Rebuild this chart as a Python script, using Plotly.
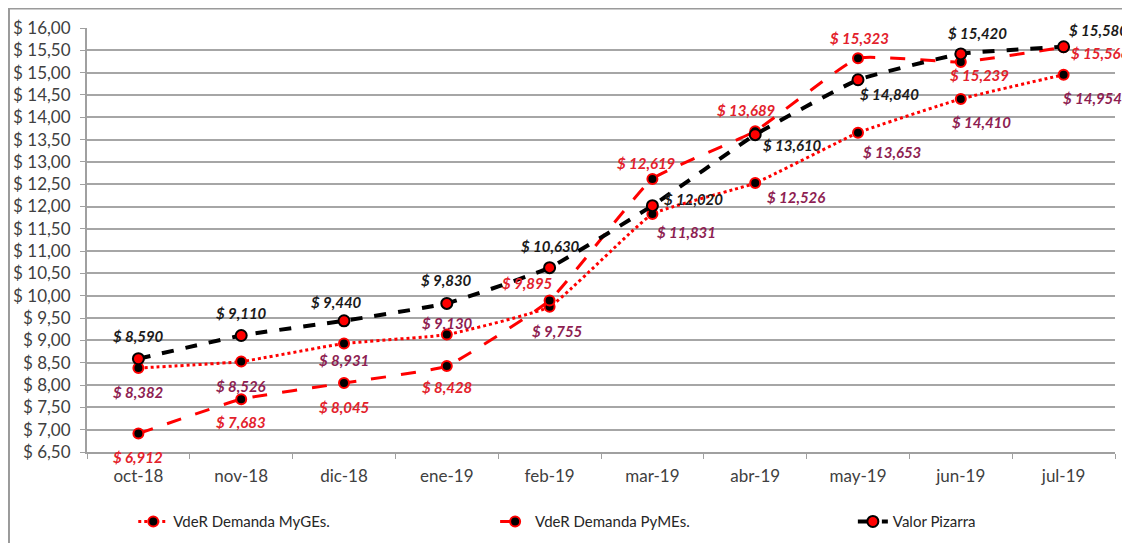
import plotly.graph_objects as go

# categories and series (values in $ thousands)
months = ["oct-18", "nov-18", "dic-18", "ene-19", "feb-19",
          "mar-19", "abr-19", "may-19", "jun-19", "jul-19"]
myges = [8.382, 8.526, 8.931, 9.130, 9.755, 11.831, 12.526, 13.653, 14.410, 14.954]
pymes = [6.912, 7.683, 8.045, 8.428, 9.895, 12.619, 13.689, 15.323, 15.239, 15.566]
pizarra = [8.590, 9.110, 9.440, 9.830, 10.630, 12.020, 13.610, 14.840, 15.420, 15.580]

y_ticks = [6.5 + 0.5 * i for i in range(20)]
y_ticktext = ["$ " + f"{v:.2f}".replace(".", ",") for v in y_ticks]

FONT = "Lato"
RED = "#ff0000"
MYGES_LBL = "#8e1e52"
PYMES_LBL = "#e3212b"
PIZ_LBL = "#1a1a1a"

# data-label offsets in pixels (dx right, dy down), as Excel placed them
off_myges = [(0, 24), (0, 24), (0, 16), (1, -12), (8, 24),
             (34, 18), (41, 14), (34, 19), (21, 23), (29, 23)]
off_pymes = [(0, 23), (0, 23), (0, 24), (0, 21), (-22, -17),
             (-6, -16), (-9, -21), (1, -20), (19, 13), (36, 6)]
off_piz = [(0, -23), (0, -23), (-8, -19), (0, -23), (1, -22),
           (41, -7), (37, 10), (31, 14), (17, -21), (35, -17)]


def labels(vals):
    return ["$ " + f"{v:.3f}".replace(".", ",") for v in vals]


fig = go.Figure()

fig.add_trace(go.Scatter(
    x=months, y=myges, name="VdeR Demanda MyGEs.", legend="legend",
    mode="lines+markers",
    line=dict(color=RED, width=3, dash="dot", shape="spline", smoothing=0.35),
    marker=dict(size=10, color="black", line=dict(color=RED, width=2)),
))
fig.add_trace(go.Scatter(
    x=months, y=pymes, name="VdeR Demanda PyMEs.", legend="legend2",
    mode="lines+markers",
    line=dict(color=RED, width=3, dash="longdash", shape="spline", smoothing=0.35),
    marker=dict(size=10, color="black", line=dict(color=RED, width=2)),
))
fig.add_trace(go.Scatter(
    x=months, y=pizarra, name="Valor Pizarra", legend="legend3",
    mode="lines+markers",
    line=dict(color="black", width=4, dash="dash", shape="spline", smoothing=0.35),
    marker=dict(size=11, color=RED, line=dict(color="black", width=2)),
))

# data labels
for vals, offs, col in [(myges, off_myges, MYGES_LBL),
                        (pymes, off_pymes, PYMES_LBL),
                        (pizarra, off_piz, PIZ_LBL)]:
    for m, v, t, (dx, dy) in zip(months, vals, labels(vals), offs):
        fig.add_annotation(
            x=m, y=v, xref="x", yref="y", text=t, showarrow=False,
            xanchor="center", yanchor="middle", xshift=dx, yshift=-dy,
            font=dict(family=FONT, size=15, color=col, style="italic", weight="bold"),
        )

# outer chart border (page body has an 8px margin, so it sits at the figure edge)
fig.add_shape(type="rect", xref="paper", yref="paper",
              x0=-0.0759, x1=1.03, y0=-0.25, y1=1.046,
              line=dict(color="#9a9a9a", width=2), layer="below")

legend_style = dict(orientation="h", y=-0.1255, xanchor="left", yanchor="top",
                    bgcolor="rgba(0,0,0,0)",
                    font=dict(family=FONT, size=15, color="#262626"))

fig.update_layout(
    width=1130, height=543,
    margin=dict(l=79, r=23, t=20, b=99, autoexpand=False),
    paper_bgcolor="white", plot_bgcolor="white",
    font=dict(family=FONT, size=16, color="#404040"),
    showlegend=True,
    legend=dict(x=0.045, **legend_style),
    legend2=dict(x=0.397, **legend_style),
    legend3=dict(x=0.745, **legend_style),
    xaxis=dict(
        type="category", range=[-0.5, 9.5], automargin=False,
        showline=True, linecolor="#a0a0a0", linewidth=2,
        ticks="outside", tickson="boundaries", ticklen=5, tickcolor="#a0a0a0",
        ticklabelstandoff=8,
        showgrid=False, tickfont=dict(size=17, color="#404040"),
    ),
    yaxis=dict(
        range=[6.5, 16.0], tickvals=y_ticks, ticktext=y_ticktext, automargin=False,
        showline=True, linecolor="#a0a0a0", linewidth=2,
        ticks="outside", ticklen=5, tickcolor="#a0a0a0", ticklabelstandoff=6,
        showgrid=True, gridcolor="#a6a6a6", gridwidth=2, zeroline=False,
        tickfont=dict(size=17, color="#404040"),
    ),
)

fig.write_html("out.html")
